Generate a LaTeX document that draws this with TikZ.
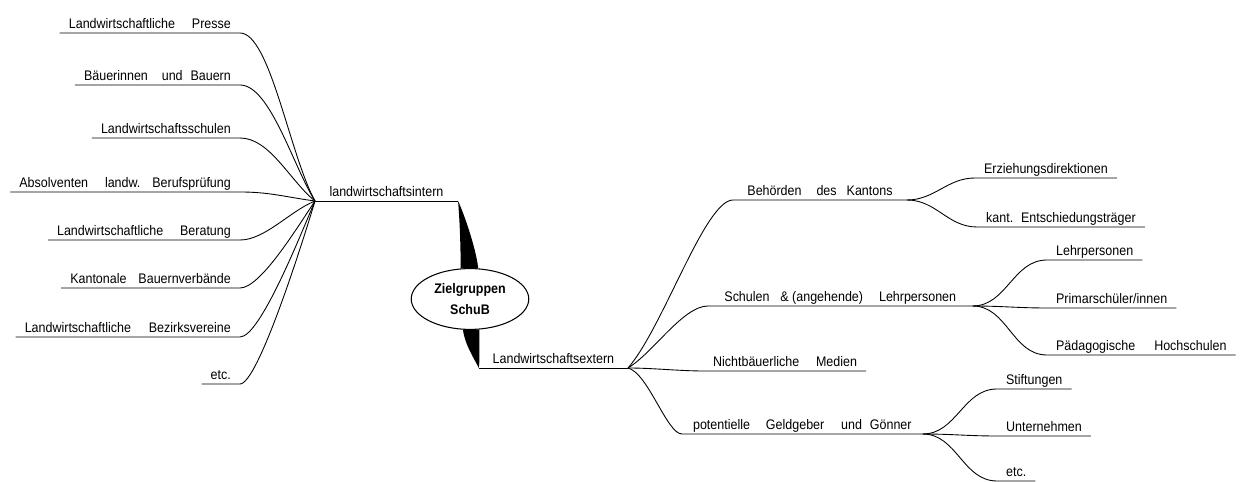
\documentclass[tikz,border=0pt]{standalone}
\usepackage{fontspec}
\setmainfont[FakeStretch=0.9]{Liberation Sans}
\usepackage{tikz}
\usetikzlibrary{shapes.geometric}

\begin{document}
\begin{tikzpicture}[x=0.02cm, y=-0.02cm,
    ast/.style={font=\fontsize{7.9}{9}\selectfont, inner xsep=5pt, inner ysep=2.5pt, text depth=0pt},
    zweig/.style={-, line width=0.5pt},
    zentrum/.style={ellipse, draw, line width=0.6pt, fill=white, inner sep=0pt,
        minimum width=66.9pt, minimum height=34.6pt, align=center,
        font=\fontsize{7.9}{11.9}\selectfont\bfseries}]
    \useasboundingbox (0,0) rectangle (1242,482);

    \node[zentrum] (zg) at (470,299) {Zielgruppen\\SchuB};
    \node[ast, minimum width=81pt, anchor=south west] (intern) at (315,201) {landwirtschaftsintern};
    \node[ast, minimum width=84.5pt, anchor=south east] (extern) at (628,368) {Landwirtschaftsextern};

    \fill (intern.south east) .. controls +(5,10) and +(-2,-20) .. (zg.75) --
    (zg.107) .. controls +(0,-30) and +(1,10) .. (intern.south east);
    \fill (zg.257) .. controls +(2,15) and +(-5,-10) .. (extern.south west) ..
    controls +(1,-10) and +(0,30) .. (zg.287) -- cycle;
    \draw[zweig] (intern.south west) -- (intern.south east);
    \draw[zweig] (extern.south west) -- (extern.south east);

    \node[ast, anchor=south east] (presse) at (240,33) {Landwirtschaftliche\hspace{9.6pt}Presse};
    \node[ast, anchor=south east] (bauern) at (240,85) {Bäuerinnen\hspace{7.9pt}und\hspace{4.5pt}Bauern};
    \node[ast, anchor=south east] (lwschulen) at (240,138) {Landwirtschaftsschulen};
    \node[ast, anchor=south east] (absolv) at (240,192) {Absolventen\hspace{9.6pt}landw.\hspace{6.8pt}Berufsprüfung};
    \node[ast, anchor=south east] (beratung) at (240,240) {Landwirtschaftliche\hspace{9.6pt}Beratung};
    \node[ast, anchor=south east] (verbaende) at (240,288) {Kantonale\hspace{6.8pt}Bauernverbände};
    \node[ast, anchor=south east] (bezirk) at (240,337) {Landwirtschaftliche\hspace{10.2pt}Bezirksvereine};
    \node[ast, anchor=south east] (etclinks) at (240,384) {etc.};

    \draw[zweig] (presse.south west) -- (presse.south east) .. controls +(30,0) and +(-25,-45) .. (intern.south west);
    \draw[zweig] (bauern.south west) -- (bauern.south east) .. controls +(30,0) and +(-22,-35) .. (intern.south west);
    \draw[zweig] (lwschulen.south west) -- (lwschulen.south east) .. controls +(30,0) and +(-25,-20) .. (intern.south west);
    \draw[zweig] (absolv.south west) -- (absolv.south east) .. controls +(30,0) and +(-30,-4) .. (intern.south west);
    \draw[zweig] (beratung.south west) -- (beratung.south east) .. controls +(25,0) and +(-25,10) .. (intern.south west);
    \draw[zweig] (verbaende.south west) -- (verbaende.south east) .. controls +(20,0) and +(-20,30) .. (intern.south west);
    \draw[zweig] (bezirk.south west) -- (bezirk.south east) .. controls +(20,0) and +(-15,35) .. (intern.south west);
    \draw[zweig] (etclinks.south west) -- (etclinks.south east) .. controls +(18,0) and +(-12,40) .. (intern.south west);

    \node[ast, minimum width=98.6pt, anchor=south west] (behoerden) at (733,200) {Behörden\hspace{8.5pt}des\hspace{5.7pt}Kantons};
    \node[ast, minimum width=150.2pt, anchor=south west] (schulen) at (708,306) {Schulen\hspace{6.2pt}\& (angehende)\hspace{9.1pt}Lehrpersonen};
    \node[ast, anchor=south west] (medien) at (704,371) {Nichtbäuerliche\hspace{9.6pt}Medien};
    \node[ast, minimum width=136.6pt, anchor=south west] (geldgeber) at (682,434) {potentielle\hspace{9.1pt}Geldgeber\hspace{9.6pt}und\hspace{4.5pt}Gönner};

    \draw[zweig] (extern.south east) .. controls +(35,-40) and +(-28,0) .. (behoerden.south west) -- (behoerden.south east);
    \draw[zweig] (extern.south east) .. controls +(25,-15) and +(-25,0) .. (schulen.south west) -- (schulen.south east);
    \draw[zweig] (extern.south east) .. controls +(25,0) and +(-25,0) .. (medien.south west) -- (medien.south east);
    \draw[zweig] (extern.south east) .. controls +(20,5) and +(-15,0) .. (geldgeber.south west) -- (geldgeber.south east);

    \node[ast, anchor=south west] (erziehung) at (975,178) {Erziehungsdirektionen};
    \node[ast, anchor=south west] (kant) at (977,227) {kant.\hspace{4.5pt}Entschiedungsträger};
    \node[ast, anchor=south west] (lehrp) at (1047,260) {Lehrpersonen};
    \node[ast, anchor=south west] (primar) at (1047,308) {Primarschüler/innen};
    \node[ast, anchor=south west] (paed) at (1047,355) {Pädagogische\hspace{10.8pt}Hochschulen};
    \node[ast, anchor=south west] (stift) at (997,389) {Stiftungen};
    \node[ast, anchor=south west] (untern) at (997,436) {Unternehmen};
    \node[ast, anchor=south west] (etcrechts) at (997,481) {etc.};

    \draw[zweig] (behoerden.south east) to[out=0,in=180] (erziehung.south west) -- (erziehung.south east);
    \draw[zweig] (behoerden.south east) to[out=0,in=180] (kant.south west) -- (kant.south east);
    \draw[zweig] (schulen.south east) to[out=0,in=180] (lehrp.south west) -- (lehrp.south east);
    \draw[zweig] (schulen.south east) to[out=0,in=180] (primar.south west) -- (primar.south east);
    \draw[zweig] (schulen.south east) to[out=0,in=180] (paed.south west) -- (paed.south east);
    \draw[zweig] (geldgeber.south east) to[out=0,in=180] (stift.south west) -- (stift.south east);
    \draw[zweig] (geldgeber.south east) to[out=0,in=180] (untern.south west) -- (untern.south east);
    \draw[zweig] (geldgeber.south east) to[out=0,in=180] (etcrechts.south west) -- (etcrechts.south east);
\end{tikzpicture}
\end{document}
